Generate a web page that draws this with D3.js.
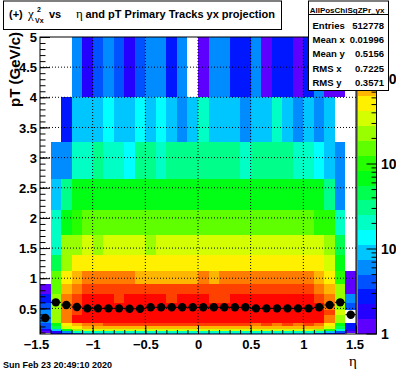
<!DOCTYPE html>
<html>
<head>
<meta charset="utf-8" />
<script src="https://d3js.org/d3.v7.min.js"></script>
<style>
html, body { margin: 0; background: #fff; }
svg { display: block; }
text { font-family: "Liberation Sans", Arial, sans-serif; font-weight: bold; fill: #000; }
.sym { font-family: "Liberation Serif", serif; font-weight: normal; }
.tick text { font-size: 13px; font-family: "Liberation Sans", Arial, sans-serif; font-weight: bold; }
.tick line { stroke: #000; }
.grid line { stroke: #000; stroke-dasharray: 1,2; }
</style>
</head>
<body>
<svg id="chart" width="396" height="372"></svg>
<script>
// pT bin edges, top to bottom (variable width bins)
const ptEdges = [5, 4, 3.26, 2.65, 2.13, 1.72, 1.38, 1.12, 0.9, 0.74, 0.59, 0.47, 0.39, 0.26, 0.21, 0.155, 0.12, 0.09, 0.075];
const etaEdges = d3.range(31).map(i => -1.5 + i * 0.1);

// counts per cell, one row per pT bin, 30 eta bins. 0 = empty
const counts = [
  [0,0,0,6,2,4,6,4,2,4,6,6,3,6,0,1,6,6,3,3,6,1,3,3,1,3,6,1,1,0],
  [0,0,3,9,9,9,14,9,9,14,9,14,9,6,9,21,9,9,9,6,9,9,21,9,6,9,6,9,0,0],
  [0,6,6,21,21,31,21,21,14,31,31,21,31,31,31,31,31,31,31,21,31,31,31,31,21,21,14,9,6,0],
  [0,9,31,69,69,69,69,69,69,69,69,69,69,69,69,69,69,69,69,69,69,69,69,69,69,69,69,31,6,0],
  [0,21,69,103,153,153,153,153,153,153,153,153,153,153,153,153,153,153,153,153,153,153,153,153,153,153,103,103,21,0],
  [0,21,229,229,343,229,343,343,343,343,229,343,343,343,343,343,343,343,343,343,343,343,343,343,343,343,343,229,46,0],
  [0,46,229,513,513,513,513,513,513,513,513,513,513,513,513,513,513,513,513,513,513,513,513,513,513,513,513,343,69,0],
  [0,153,513,767,1147,1147,1147,1147,1147,767,767,767,767,767,767,1147,767,1147,1147,1147,1147,1147,1147,1147,1147,1147,767,513,103,1],
  [1,153,767,1147,1715,1715,1715,1715,1715,1715,1715,1715,1715,1715,1715,1715,1715,1715,1715,1715,1715,1715,1715,1715,1715,1715,1147,767,229,1],
  [3,229,1147,1715,2565,2565,2565,1715,2565,2565,2565,2565,1715,2565,2565,2565,1715,1715,2565,2565,2565,2565,2565,2565,2565,2565,1715,1147,229,6],
  [4,229,1147,1715,2565,2565,2565,2565,2565,2565,2565,2565,2565,2565,2565,2565,2565,2565,2565,2565,2565,2565,2565,2565,2565,2565,2565,1147,229,4],
  [6,229,1147,1715,2565,2565,2565,2565,2565,2565,2565,2565,2565,2565,2565,2565,2565,2565,2565,2565,2565,2565,2565,2565,2565,2565,2565,1715,343,0],
  [6,229,1147,2565,2565,2565,2565,2565,2565,2565,2565,2565,2565,2565,2565,2565,2565,2565,2565,2565,2565,2565,2565,2565,2565,2565,2565,1147,229,0],
  [4,69,513,767,1147,1147,1715,1715,1715,1715,1715,1715,1715,1715,1715,1715,1715,1715,1715,1715,1147,1715,1147,1715,1147,1715,1147,513,69,3],
  [4,46,343,513,767,767,767,767,767,767,767,767,767,767,767,767,767,767,767,767,767,767,767,767,767,767,767,343,46,3],
  [2,9,69,229,343,343,343,343,343,343,343,343,343,343,343,343,343,343,343,343,343,343,343,343,343,343,229,103,21,2],
  [1,2,6,21,21,21,21,21,21,21,21,21,21,21,21,21,21,21,21,21,21,21,21,21,21,21,21,9,4,1],
  [0,2,3,4,9,9,9,9,9,9,9,9,9,9,9,9,9,9,9,9,9,9,9,9,9,9,4,3,2,0]
];

// profile points (mean pT per eta bin)
const profile = [0.34,0.6,0.556,0.522,0.5,0.5,0.5,0.5,0.494,0.494,0.518,0.518,0.518,0.518,0.518,0.518,0.518,0.518,0.518,0.518,0.5,0.5,0.5,0.5,0.5,0.5,0.518,0.556,0.6,0.395];

const statsRows = [["Entries","512778"],["Mean x","0.01996"],["Mean y","0.5156"],["RMS x","0.7225"],["RMS y","0.3571"]];
const zMax = 3120;
const nLevels = 20;

const svg = d3.select("#chart");

const x = d3.scaleLinear().domain([-1.5, 1.5]).range([40, 356]);
const y = d3.scaleLinear().domain([0.075, 5]).range([334, 37]);
const zAxisScale = d3.scaleLog().domain([1, zMax]).range([334, 37]);

// rainbow palette, purple at the bottom and red on top
const palette = d3.range(nLevels).map(i => d3.hsl(262 - 13.7 * i, 1, 0.5).formatHex());
const color = d3.scaleQuantize().domain([0, Math.log10(zMax)]).range(palette);

// cells
const cells = [];
counts.forEach((row, r) => row.forEach((v, c) => { if (v > 0) cells.push({r, c, v}); }));
svg.append("g").selectAll("rect")
  .data(cells)
  .enter().append("rect")
  .attr("x", d => x(etaEdges[d.c]))
  .attr("width", d => x(etaEdges[d.c + 1]) - x(etaEdges[d.c]))
  .attr("y", d => y(ptEdges[d.r]))
  .attr("height", d => y(ptEdges[d.r + 1]) - y(ptEdges[d.r]))
  .attr("fill", d => color(Math.log10(d.v)))
  .attr("shape-rendering", "crispEdges");

// dotted grid
const grid = svg.append("g").attr("class", "grid");
grid.selectAll(".gx").data([-1, -0.5, 0, 0.5, 1]).enter().append("line")
  .attr("x1", d => x(d)).attr("x2", d => x(d)).attr("y1", 37).attr("y2", 334);
grid.selectAll(".gy").data([0.5, 1, 1.5, 2, 2.5, 3, 3.5, 4, 4.5]).enter().append("line")
  .attr("y1", d => y(d)).attr("y2", d => y(d)).attr("x1", 40).attr("x2", 356);

// profile markers with bin width bars
const prof = svg.append("g");
prof.selectAll("line").data(profile).enter().append("line")
  .attr("x1", (d, i) => x(etaEdges[i])).attr("x2", (d, i) => x(etaEdges[i + 1]))
  .attr("y1", d => y(d)).attr("y2", d => y(d))
  .attr("stroke", "#000");
prof.selectAll("circle").data(profile).enter().append("circle")
  .attr("cx", (d, i) => x((etaEdges[i] + etaEdges[i + 1]) / 2))
  .attr("cy", d => y(d))
  .attr("r", 4.2)
  .attr("fill", "#000");

// frame
svg.append("rect").attr("x", 40).attr("y", 37).attr("width", 316).attr("height", 297)
  .attr("fill", "none").attr("stroke", "#000");

// axes, ticks point into the plot
const yMajor = d3.axisLeft(y).tickValues([0.5, 1, 1.5, 2, 2.5, 3, 3.5, 4, 4.5, 5])
  .tickFormat(d3.format("~g")).tickSize(-10).tickPadding(3);
const yMinor = d3.axisLeft(y).tickValues(d3.range(1, 50).map(d => d / 10)).tickFormat("").tickSize(-5.5);
const xMajor = d3.axisBottom(x).tickValues([-1.5, -1, -0.5, 0, 0.5, 1, 1.5])
  .tickFormat(d3.format("~g")).tickSize(-8.5).tickPadding(6);
const xMinor = d3.axisBottom(x).tickValues(d3.range(-14, 15).map(d => d / 10)).tickFormat("").tickSize(-4);

const gyMinor = svg.append("g").attr("class", "tick-axis").attr("transform", "translate(40,0)").call(yMinor);
const gyMajor = svg.append("g").attr("transform", "translate(40,0)").call(yMajor);
const gxMinor = svg.append("g").attr("transform", "translate(0,334)").call(xMinor);
const gxMajor = svg.append("g").attr("transform", "translate(0,334)").call(xMajor);
[gyMinor, gyMajor, gxMinor, gxMajor].forEach(g => g.select(".domain").remove());
gyMajor.selectAll("text").attr("dy", "0.36em");
// end labels sit a little inside, like the root canvas does
gxMajor.selectAll("text").attr("dx", d => d === -1.5 ? -4 : d === 1.5 ? -1.5 : 0);

// colour bar
const barX = 358, barW = 18.5;
const levelH = (334 - 37) / nLevels;
svg.append("g").selectAll("rect").data(palette).enter().append("rect")
  .attr("x", barX).attr("width", barW)
  .attr("y", (d, i) => 334 - (i + 1) * levelH).attr("height", levelH)
  .attr("fill", d => d)
  .attr("shape-rendering", "crispEdges");
svg.append("rect").attr("x", 357).attr("y", 37).attr("width", 19.5).attr("height", 297)
  .attr("fill", "none").attr("stroke", "#000");

const zValues = [1,2,3,4,5,6,7,8,9,10,20,30,40,50,60,70,80,90,100,200,300,400,500,600,700,800,900,1000,2000,3000];
svg.append("g").selectAll("line").data(zValues).enter().append("line")
  .attr("x1", 376.5)
  .attr("x2", d => [1, 10, 100, 1000].includes(d) ? 366.5 : 371.5)
  .attr("y1", d => zAxisScale(d)).attr("y2", d => zAxisScale(d))
  .attr("stroke", "#000");
svg.append("g").selectAll("text").data([1, 10, 100, 1000]).enter().append("text")
  .attr("x", 381)
  .attr("y", d => zAxisScale(d) + 4.7)
  .attr("font-size", 14)
  .text(d => d === 1 ? "1" : "10");

// axis titles
svg.append("text").attr("transform", "translate(20,107) rotate(-90)").attr("font-size", 15).text("pT (GeV/c)");
svg.append("text").attr("class", "sym").attr("x", 349).attr("y", 366).attr("font-size", 15).text("η");

// title box
svg.append("rect").attr("x", 3.5).attr("y", 1).attr("width", 278).attr("height", 28.5)
  .attr("fill", "#fff").attr("stroke", "#000");
const title = svg.append("g").attr("font-size", 11);
title.append("text").attr("x", 9).attr("y", 18).text("(+)");
title.append("text").attr("class", "sym").attr("x", 28).attr("y", 18).attr("font-size", 13).text("χ");
title.append("text").attr("x", 37).attr("y", 12).attr("font-size", 7).text("2");
title.append("text").attr("x", 35).attr("y", 23).attr("font-size", 7).text("Vx");
title.append("text").attr("x", 49).attr("y", 18).text("vs");
title.append("text").attr("class", "sym").attr("x", 76).attr("y", 18).attr("font-size", 13).text("η");
title.append("text").attr("x", 85.5).attr("y", 18).text("and pT Primary Tracks yx projection");

// stats box
svg.append("rect").attr("x", 308.5).attr("y", 1).attr("width", 80).attr("height", 89.5)
  .attr("fill", "#fff").attr("stroke", "#000");
svg.append("line").attr("x1", 308.5).attr("x2", 388.5).attr("y1", 14.5).attr("y2", 14.5).attr("stroke", "#000");
svg.append("text").attr("x", 347).attr("y", 12.5).attr("text-anchor", "middle").attr("font-size", 8).text("AllPosChiSqZPr_yx");
const statY = [28.5, 43, 56.5, 71.5, 86];
statsRows.forEach((s, i) => {
  svg.append("text").attr("x", 312.5).attr("y", statY[i]).attr("font-size", 9.5).text(s[0]);
  svg.append("text").attr("x", 384).attr("y", statY[i]).attr("text-anchor", "end").attr("font-size", 9.5).text(s[1]);
});

svg.append("text").attr("x", 3).attr("y", 368).attr("font-size", 9).text("Sun Feb 23 20:49:10 2020");
</script>
</body>
</html>
